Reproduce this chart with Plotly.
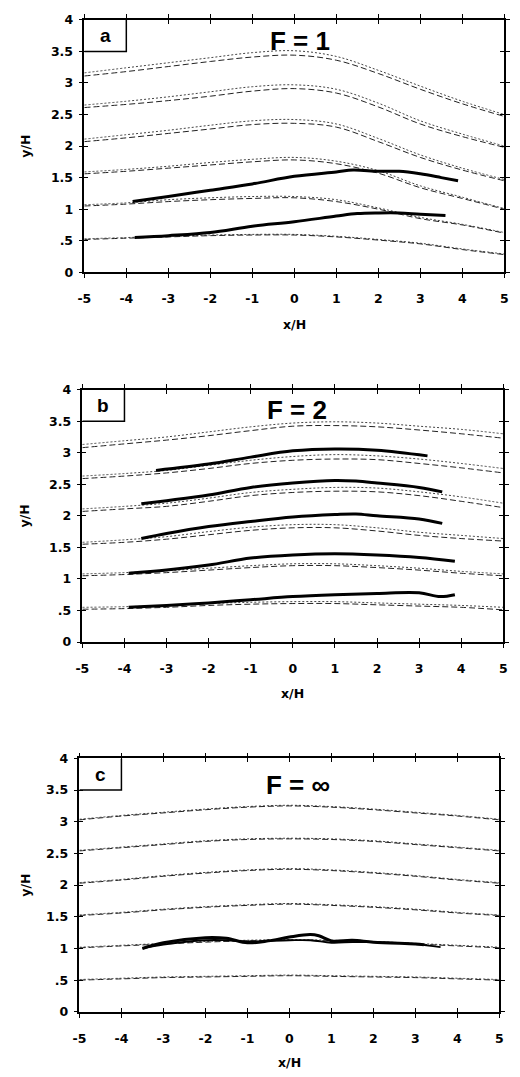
import plotly.graph_objects as go

W, H = 520, 1077

# ---------------- data ----------------
x_grid = [-5, -4, -3, -2, -1, 0, 1, 2, 3, 4, 5]
x_tick_vals = [-5, -4, -3, -2, -1, 0, 1, 2, 3, 4, 5]
x_tick_text = ["-5", "-4", "-3", "-2", "-1", "0", "1", "2", "3", "4", "5"]
y_tick_vals = [0, 0.5, 1, 1.5, 2, 2.5, 3, 3.5, 4]
y_tick_text = ["0", ".5", "1", "1.5", "2", "2.5", "3", "3.5", "4"]

panel_letters = ["a", "b", "c"]
froude_titles = ["F = 1", "F = 2", "F = \u221e"]

# Panel a (F = 1) theoretical streamlines: dotted and dashed
a_dotted = [
    [3.16, 3.24, 3.32, 3.40, 3.48, 3.51, 3.42, 3.20, 2.95, 2.71, 2.50],
    [2.65, 2.71, 2.78, 2.86, 2.94, 2.97, 2.90, 2.68, 2.40, 2.19, 2.00],
    [2.11, 2.18, 2.25, 2.33, 2.40, 2.42, 2.35, 2.12, 1.86, 1.65, 1.47],
    [1.59, 1.63, 1.68, 1.74, 1.79, 1.82, 1.76, 1.61, 1.37, 1.19, 1.01],
    [1.07, 1.10, 1.15, 1.18, 1.20, 1.20, 1.15, 1.02, 0.87, 0.76, 0.63],
    [0.53, 0.55, 0.57, 0.59, 0.60, 0.60, 0.57, 0.52, 0.46, 0.37, 0.29],
]
a_dashed = [
    [3.11, 3.18, 3.26, 3.34, 3.41, 3.44, 3.36, 3.15, 2.90, 2.67, 2.47],
    [2.61, 2.66, 2.72, 2.79, 2.87, 2.91, 2.84, 2.62, 2.35, 2.15, 1.98],
    [2.07, 2.13, 2.20, 2.27, 2.34, 2.36, 2.30, 2.07, 1.82, 1.62, 1.45],
    [1.56, 1.60, 1.65, 1.70, 1.75, 1.78, 1.72, 1.57, 1.34, 1.17, 1.00],
    [1.05, 1.08, 1.12, 1.15, 1.17, 1.18, 1.12, 1.00, 0.85, 0.75, 0.62],
    [0.52, 0.54, 0.56, 0.58, 0.59, 0.59, 0.56, 0.51, 0.45, 0.36, 0.28],
]
a_meas_x = [
    [-3.85, -3, -2, -1, 0, 1, 1.4, 2, 2.5, 3, 3.5, 3.9],
    [-3.8, -3, -2, -1, 0, 1, 1.5, 2, 2.5, 3, 3.6],
]
a_meas_y = [
    [1.12, 1.20, 1.30, 1.40, 1.52, 1.59, 1.62, 1.60, 1.60, 1.56, 1.50, 1.45],
    [0.55, 0.58, 0.63, 0.73, 0.80, 0.89, 0.93, 0.94, 0.94, 0.92, 0.90],
]

# Panel b (F = 2)
b_dotted = [
    [3.13, 3.19, 3.25, 3.33, 3.41, 3.47, 3.49, 3.47, 3.42, 3.37, 3.30],
    [2.63, 2.67, 2.72, 2.80, 2.88, 2.94, 2.97, 2.95, 2.90, 2.83, 2.75],
    [2.11, 2.15, 2.20, 2.28, 2.37, 2.42, 2.45, 2.44, 2.38, 2.30, 2.20],
    [1.58, 1.62, 1.67, 1.75, 1.82, 1.86, 1.86, 1.81, 1.74, 1.69, 1.64],
    [1.08, 1.10, 1.13, 1.17, 1.21, 1.24, 1.24, 1.21, 1.17, 1.12, 1.08],
    [0.55, 0.56, 0.58, 0.61, 0.63, 0.64, 0.64, 0.62, 0.60, 0.58, 0.55],
]
b_dashed = [
    [3.08, 3.14, 3.20, 3.27, 3.35, 3.42, 3.43, 3.41, 3.36, 3.30, 3.23],
    [2.59, 2.63, 2.68, 2.75, 2.83, 2.88, 2.90, 2.89, 2.83, 2.76, 2.68],
    [2.07, 2.11, 2.15, 2.23, 2.32, 2.37, 2.39, 2.38, 2.32, 2.23, 2.13],
    [1.55, 1.58, 1.63, 1.70, 1.77, 1.81, 1.81, 1.76, 1.69, 1.64, 1.60],
    [1.05, 1.07, 1.10, 1.14, 1.18, 1.21, 1.21, 1.18, 1.14, 1.09, 1.05],
    [0.52, 0.53, 0.55, 0.58, 0.60, 0.61, 0.61, 0.59, 0.57, 0.55, 0.51],
]
b_meas_x = [
    [-3.9, -3, -2, -1, 0, 1, 2, 3, 3.5, 3.85],
    [-3.9, -3, -2, -1, 0, 1, 2, 3, 3.85],
    [-3.6, -3, -2, -1, 0, 1, 1.5, 2, 3, 3.55],
    [-3.6, -3, -2, -1, 0, 1, 1.5, 2, 3, 3.55],
    [-3.25, -2, -1, 0, 1, 2, 3.2],
]
b_meas_y = [
    [0.55, 0.58, 0.62, 0.67, 0.72, 0.75, 0.77, 0.78, 0.72, 0.75],
    [1.09, 1.14, 1.22, 1.33, 1.38, 1.40, 1.38, 1.34, 1.28],
    [1.64, 1.72, 1.83, 1.91, 1.98, 2.02, 2.03, 2.00, 1.95, 1.88],
    [2.19, 2.24, 2.33, 2.45, 2.52, 2.56, 2.55, 2.52, 2.45, 2.38],
    [2.72, 2.82, 2.93, 3.03, 3.06, 3.04, 2.95],
]

# Panel c (F = infinity)
c_dotted = [
    [3.04, 3.10, 3.15, 3.20, 3.24, 3.26, 3.24, 3.20, 3.15, 3.10, 3.04],
    [2.55, 2.60, 2.65, 2.70, 2.73, 2.74, 2.73, 2.70, 2.65, 2.60, 2.55],
    [2.04, 2.09, 2.15, 2.20, 2.24, 2.26, 2.24, 2.20, 2.15, 2.09, 2.04],
    [1.53, 1.57, 1.62, 1.66, 1.69, 1.71, 1.69, 1.66, 1.62, 1.57, 1.53],
    [1.02, 1.05, 1.08, 1.11, 1.13, 1.14, 1.13, 1.11, 1.08, 1.05, 1.02],
    [0.51, 0.53, 0.55, 0.56, 0.57, 0.58, 0.57, 0.56, 0.55, 0.53, 0.51],
]
c_dashed = [
    [3.03, 3.09, 3.14, 3.19, 3.23, 3.25, 3.23, 3.19, 3.14, 3.09, 3.03],
    [2.54, 2.59, 2.64, 2.69, 2.72, 2.73, 2.72, 2.69, 2.64, 2.59, 2.54],
    [2.03, 2.08, 2.14, 2.19, 2.23, 2.25, 2.23, 2.19, 2.14, 2.08, 2.03],
    [1.52, 1.56, 1.61, 1.65, 1.68, 1.70, 1.68, 1.65, 1.61, 1.56, 1.52],
    [1.01, 1.04, 1.07, 1.10, 1.12, 1.13, 1.12, 1.10, 1.07, 1.04, 1.01],
    [0.50, 0.52, 0.54, 0.55, 0.56, 0.57, 0.56, 0.55, 0.54, 0.52, 0.50],
]
c_meas_x = [
    [-3.5, -3, -2, -1.5, -1, -0.5, 0, 0.5, 0.7, 1, 1.5, 2, 3, 3.2],
    [-3.5, -3, -2, -1.5, -1, 0, 0.5, 1, 1.5, 2, 3, 3.6],
]
c_meas_y = [
    [1.00, 1.09, 1.17, 1.16, 1.09, 1.12, 1.18, 1.22, 1.20, 1.12, 1.13, 1.10, 1.07, 1.06],
    [1.00, 1.06, 1.13, 1.13, 1.11, 1.13, 1.13, 1.09, 1.10, 1.10, 1.07, 1.02],
]

panels = [
    (a_dotted, a_dashed, a_meas_x, a_meas_y, [3, 3]),
    (b_dotted, b_dashed, b_meas_x, b_meas_y, [3, 3, 3, 3, 3]),
    (c_dotted, c_dashed, c_meas_x, c_meas_y, [3, 1.8]),
]
# ---------------- layout geometry (pixels) ----------------
panel_px = [(79, 508, 12, 268), (77, 507, 387, 643), (74, 503, 761, 1018)]
xlabel_py = [321, 695, 1069]
ylabel_px = 18
title_pos = [(-0.62, 3.66), (-0.67, 3.67), (-0.6, 3.58)]

tick_font = dict(family="DejaVu Sans", size=12.5, color="black", weight="bold")
label_font = dict(family="DejaVu Sans", size=12.5, color="black", weight="bold")

fig = go.Figure()
layout = dict(
    width=W, height=H, margin=dict(l=0, r=0, t=0, b=0),
    paper_bgcolor="white", plot_bgcolor="white", showlegend=False,
)
annotations = []
shapes = []

for i, (dots, dashes, mx, my, mw) in enumerate(panels):
    n = i + 1
    xa, ya = ("x" if n == 1 else f"x{n}"), ("y" if n == 1 else f"y{n}")
    xo, yo = f"x{n + 3}", f"y{n + 3}"
    x0, x1, y0, y1 = panel_px[i]
    xdom = [x0 / W, x1 / W]
    ydom = [1 - y1 / H, 1 - y0 / H]

    for yy in dots:
        fig.add_trace(go.Scatter(x=x_grid, y=yy, mode="lines", line_shape="spline",
                                 line=dict(color="#444444", width=1, dash="2px,2px"),
                                 xaxis=xa, yaxis=ya, hoverinfo="skip"))
    for yy in dashes:
        fig.add_trace(go.Scatter(x=x_grid, y=yy, mode="lines", line_shape="spline",
                                 line=dict(color="#222222", width=1, dash="6px,3px"),
                                 xaxis=xa, yaxis=ya, hoverinfo="skip"))
    for xs, ys, w in zip(mx, my, mw):
        fig.add_trace(go.Scatter(x=xs, y=ys, mode="lines", line_shape="spline",
                                 line=dict(color="black", width=w),
                                 xaxis=xa, yaxis=ya, hoverinfo="skip"))
    # invisible trace on overlay axes (for crossing ticks)
    fig.add_trace(go.Scatter(x=[None], y=[None], xaxis=xo, yaxis=yo, hoverinfo="skip"))

    common_x = dict(range=[-5, 5], tickmode="array", tickvals=x_tick_vals,
                    showgrid=False, zeroline=False, ticklen=4, tickwidth=1.2,
                    tickcolor="black", fixedrange=True)
    common_y = dict(range=[0, 4], tickmode="array", tickvals=y_tick_vals,
                    showgrid=False, zeroline=False, ticklen=4, tickwidth=1.2,
                    tickcolor="black", fixedrange=True)
    key = "" if n == 1 else str(n)
    layout["xaxis" + key] = dict(
        common_x, domain=xdom, anchor=ya, ticks="outside", mirror="ticks",
        showline=True, linecolor="black", linewidth=1.5,
        ticktext=x_tick_text, tickfont=tick_font, ticklabelstandoff=10)
    layout["yaxis" + key] = dict(
        common_y, domain=ydom, anchor=xa, ticks="outside", mirror="ticks",
        showline=True, linecolor="black", linewidth=1.5,
        ticktext=y_tick_text, tickfont=tick_font, ticklabelstandoff=3)
    layout[f"xaxis{n + 3}"] = dict(
        common_x, overlaying=xa, anchor=yo, ticks="inside", mirror="ticks",
        showline=False, showticklabels=False)
    layout[f"yaxis{n + 3}"] = dict(
        common_y, overlaying=ya, anchor=xo, ticks="inside", mirror="ticks",
        showline=False, showticklabels=False)

    # panel letter box
    shapes.append(dict(type="path", xref=xa, yref=ya,
                       path="M -5,3.5 L -4,3.5 L -4,4",
                       line=dict(color="black", width=1.5)))
    annotations.append(dict(x=-4.5, y=3.75, xref=xa, yref=ya, text=panel_letters[i],
                            showarrow=False, xanchor="center", yanchor="middle",
                            font=dict(family="Liberation Sans", size=19, color="black",
                                      weight="bold")))
    tx, ty = title_pos[i]
    annotations.append(dict(x=tx, y=ty, xref=xa, yref=ya, text=froude_titles[i],
                            showarrow=False, xanchor="left", yanchor="middle",
                            font=dict(family="Liberation Sans", size=26, color="black",
                                      weight="bold")))
    # axis titles
    annotations.append(dict(x=(x0 + x1) / 2 / W, y=1 - xlabel_py[i] / H,
                            xref="paper", yref="paper", text="x/H", showarrow=False,
                            xanchor="center", yanchor="middle", font=label_font))
    annotations.append(dict(x=ylabel_px / W, y=1 - (y0 + y1) / 2 / H,
                            xref="paper", yref="paper", text="y/H", showarrow=False,
                            xanchor="center", yanchor="middle",
                            textangle=-90, font=label_font))

layout["annotations"] = annotations
layout["shapes"] = shapes
fig.update_layout(**layout)
fig.write_html(
    "out.html",
    config={"displayModeBar": False},
    post_script="document.body.style.margin='0';"
                "document.documentElement.style.overflow='hidden';"
                "document.body.style.overflow='hidden';",
)
